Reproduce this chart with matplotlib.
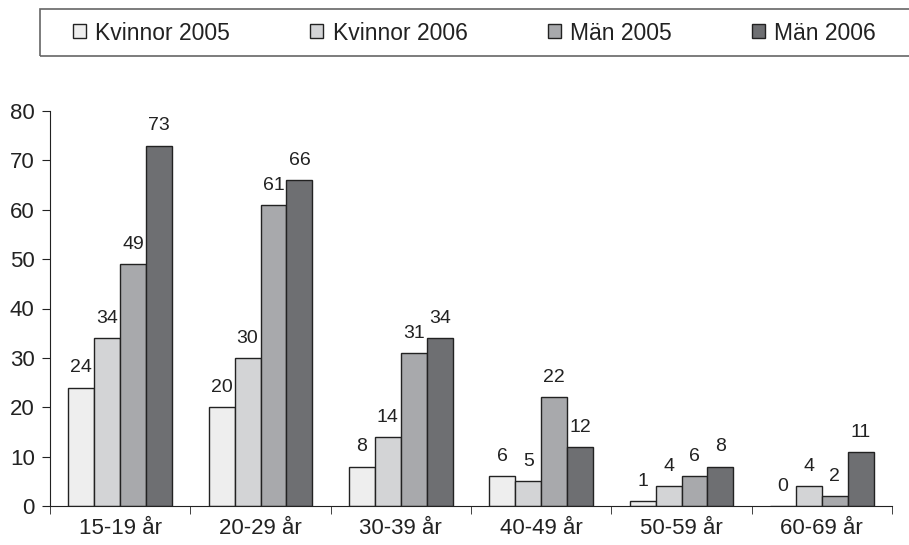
import numpy as np
import matplotlib.pyplot as plt
from matplotlib.ticker import FixedLocator
from matplotlib.patches import Rectangle

groups = ["15-19 år", "20-29 år", "30-39 år", "40-49 år", "50-59 år", "60-69 år"]
series_names = ["Kvinnor 2005", "Kvinnor 2006", "Män 2005", "Män 2006"]
kvinnor_2005 = [24, 20, 8, 6, 1, 0]
kvinnor_2006 = [34, 30, 14, 5, 4, 4]
man_2005 = [49, 61, 31, 22, 6, 2]
man_2006 = [73, 66, 34, 12, 8, 11]
colors = ["#eeeeee", "#d3d4d6", "#a8a9ac", "#6e6f72"]

plt.rcParams['font.family'] = ['Liberation Sans', 'DejaVu Sans']

fig = plt.figure(figsize=(9.09, 5.45), dpi=100)
ax = fig.add_axes([50 / 909, 1 - 506 / 545, 842 / 909, 395 / 545])

x = np.arange(len(groups))
width = 0.185
all_series = [kvinnor_2005, kvinnor_2006, man_2005, man_2006]
for i, (vals, name, col) in enumerate(zip(all_series, series_names, colors)):
    pos = x + (i - 1.5) * width
    ax.bar(pos, vals, width, color=col, edgecolor="#222222", linewidth=1.0, label=name)
    for px, v in zip(pos, vals):
        ax.annotate(str(v), (px, v), xytext=(0, 8), textcoords="offset points",
                    ha="center", va="bottom", fontsize=14, color="#222222")

ax.set_xlim(-0.5, len(groups) - 0.5)
ax.set_ylim(0, 80)
ax.set_yticks(range(0, 81, 10))
ax.set_xticks(x)
ax.set_xticklabels(groups)
ax.xaxis.set_minor_locator(FixedLocator(np.arange(-0.5, len(groups), 1.0)))
ax.tick_params(axis="x", which="major", length=0, labelsize=16, pad=9, colors="#222222")
ax.tick_params(axis="x", which="minor", length=6, direction="out", color="#222222")
ax.tick_params(axis="y", length=6, direction="out", labelsize=16, pad=5, colors="#222222")
for s in ["top", "right"]:
    ax.spines[s].set_visible(False)
for s in ["left", "bottom"]:
    ax.spines[s].set_color("#222222")

# legend box drawn separately, runs to the right edge like the original
fig.patches.append(Rectangle((40 / 909, 1 - 56 / 545), 880 / 909, 47 / 545, transform=fig.transFigure,
                             fill=False, edgecolor="#666666", linewidth=1.2))
leg = ax.legend(loc="center left", bbox_to_anchor=(73 / 909, 1 - 33 / 545),
                bbox_transform=fig.transFigure, ncol=4, frameon=False,
                prop={"size": 16.5}, labelcolor="#222222",
                handlelength=0.57, handleheight=0.57, handletextpad=0.4,
                columnspacing=3.5, borderpad=0, borderaxespad=0)

fig.savefig("out.png", dpi=100)
